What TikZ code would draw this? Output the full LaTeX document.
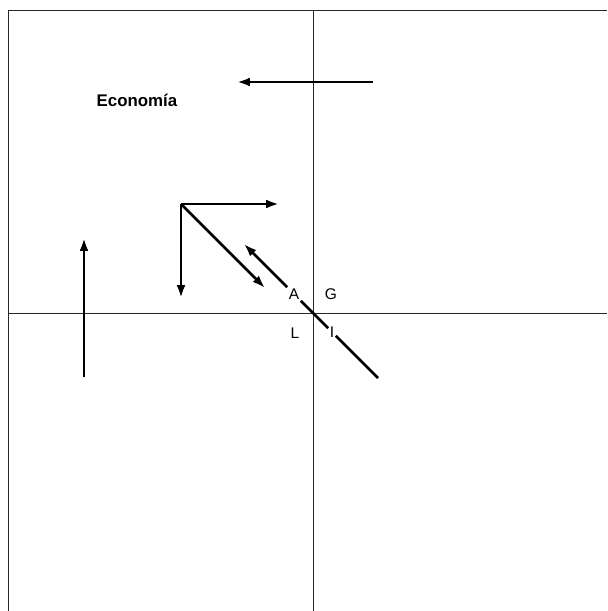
\documentclass[tikz,border=0pt]{standalone}
\usepackage{fontspec}
\setmainfont{Liberation Sans}
\usepackage{tikz}
\usetikzlibrary{arrows.meta}

\begin{document}
\begin{tikzpicture}[
    flecha/.style={-{Latex[length=3.2mm, width=2.2mm]}, line width=1.9pt},
    trazo/.style={line width=1.9pt},
    eje/.style={line width=0.6pt, black!85},
    letra/.style={fill=white, inner sep=1pt, font=\fontsize{11}{13}\selectfont}
]
\useasboundingbox (-7.825,-7.45) rectangle (7.35,7.825);

% marco y ejes
\draw[eje] (-7.625,-7.45) -- (-7.625,7.575) -- (7.35,7.575);
\draw[eje] (-7.625,0) -- (7.35,0);
\draw[eje] (0,-7.45) -- (0,7.575);

\node (econ) at (-4.4,5.325) {\fontsize{12}{14}\selectfont\bfseries Econom\'{\i}a};

% flechas
\coordinate (izqAbajo) at (-5.725,-1.6);
\coordinate (izqArriba) at (-5.725,1.875);
\draw[flecha] (izqAbajo) -- (izqArriba);

\coordinate (supDer) at (1.5,5.775);
\coordinate (supIzq) at (-1.9,5.775);
\draw[flecha] (supDer) -- (supIzq);

\coordinate (esq) at (-3.3,2.725);
\coordinate (esqDer) at (-0.85,2.725);
\coordinate (esqAbajo) at (-3.3,0.375);
\coordinate (esqDiag) at (-1.2,0.625);
\draw[flecha] (esq) -- (esqDer);
\draw[flecha] (esq) -- (esqAbajo);
\draw[flecha] (esq) -- (esqDiag);

% cuadrantes
\node[letra] (A) at (-0.475,0.475) {A};
\node[letra] (G) at (0.45,0.475) {G};
\node[letra] (L) at (-0.45,-0.5) {L};
\node[letra] (I) at (0.475,-0.475) {I};

\coordinate (diagArriba) at (-1.725,1.725);
\coordinate (diagFin) at (1.625,-1.625);
\draw[flecha] (A) -- (diagArriba);
\draw[trazo] (A) -- (I);
\draw[trazo] (I) -- (diagFin);
\end{tikzpicture}
\end{document}
